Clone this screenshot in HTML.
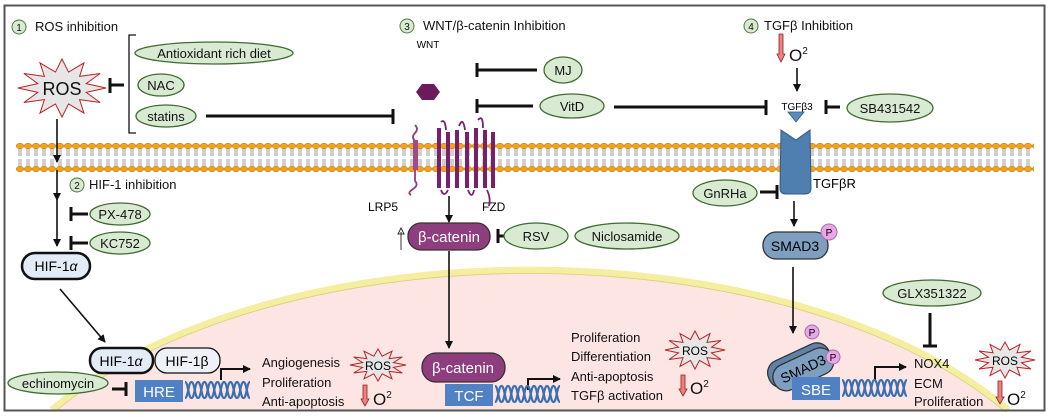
<!DOCTYPE html>
<html><head><meta charset="utf-8"><style>
html,body{margin:0;padding:0;background:#fff;width:1050px;height:417px;overflow:hidden}
svg{display:block;font-family:"Liberation Sans",sans-serif}
</style></head><body>
<svg width="1050" height="417" viewBox="0 0 1050 417" xmlns="http://www.w3.org/2000/svg">
<defs>
<pattern id="mem" x="16" y="0" width="8" height="417" patternUnits="userSpaceOnUse">
<line x1="3" y1="149" x2="3" y2="156" stroke="#888" stroke-width="0.8"/>
<line x1="5" y1="149" x2="5" y2="156" stroke="#888" stroke-width="0.8"/>
<line x1="3" y1="159" x2="3" y2="166" stroke="#888" stroke-width="0.8"/>
<line x1="5" y1="159" x2="5" y2="166" stroke="#888" stroke-width="0.8"/>
<ellipse cx="4" cy="146" rx="3.8" ry="2.8" fill="#f4a21e" stroke="#b8720a" stroke-width="0.5"/>
<ellipse cx="4" cy="169" rx="3.8" ry="2.8" fill="#f4a21e" stroke="#b8720a" stroke-width="0.5"/>
</pattern>
<polygon id="star" points="1,0 .55,.15 .866,.5 .4,.4 .5,.866 .15,.55 0,1 -.15,.55 -.5,.866 -.4,.4 -.866,.5 -.55,.15 -1,0 -.55,-.15 -.866,-.5 -.4,-.4 -.5,-.866 -.15,-.55 0,-1 .15,-.55 .5,-.866 .4,-.4 .866,-.5 .55,-.15" fill="#e6e6e6" stroke="#b22" stroke-width="1" vector-effect="non-scaling-stroke"/>
<g id="dna" fill="none" stroke="#3b6fb0" stroke-width="2.2">
<path d="M0,0 c3.25,0 3.25,16 6.5,16 c3.25,0 3.25,-16 6.5,-16 c3.25,0 3.25,16 6.5,16 c3.25,0 3.25,-16 6.5,-16 c3.25,0 3.25,16 6.5,16 c3.25,0 3.25,-16 6.5,-16 c3.25,0 3.25,16 6.5,16 c3.25,0 3.25,-16 6.5,-16 c3.25,0 3.25,16 6.5,16 c3.25,0 3.25,-16 6.5,-16"/>
<path d="M0,16 c3.25,0 3.25,-16 6.5,-16 c3.25,0 3.25,16 6.5,16 c3.25,0 3.25,-16 6.5,-16 c3.25,0 3.25,16 6.5,16 c3.25,0 3.25,-16 6.5,-16 c3.25,0 3.25,16 6.5,16 c3.25,0 3.25,-16 6.5,-16 c3.25,0 3.25,16 6.5,16 c3.25,0 3.25,-16 6.5,-16 c3.25,0 3.25,16 6.5,16"/>
</g>
<marker id="ar" markerWidth="8" markerHeight="8" refX="7" refY="4" orient="auto" markerUnits="userSpaceOnUse"><path d="M0,0 L8,4 L0,8 z" fill="#111"/></marker>
</defs>

<path d="M52,410 A562,295 0 0 1 1008,410 Z" fill="#fde5e3"/>
<path d="M52,410 A562,295 0 0 1 1008,410" fill="none" stroke="#f4eea0" stroke-width="7"/>
<path d="M57,410 A558,291 0 0 1 1003,410" fill="none" stroke="#d8cf80" stroke-width="0.8"/>
<rect x="16" y="140" width="1018" height="33" fill="url(#mem)"/>

<rect x="4.5" y="5.5" width="1040" height="405" fill="none" stroke="#555" stroke-width="2"/>

<g font-size="13" fill="#111">
<circle cx="19" cy="27" r="7" fill="#d9ead3" stroke="#4a7a3a"/><text x="19" y="31" text-anchor="middle" font-size="10">1</text>
<text x="35" y="31">ROS inhibition</text>
<circle cx="407" cy="26" r="7" fill="#d9ead3" stroke="#4a7a3a"/><text x="407" y="30" text-anchor="middle" font-size="10">3</text>
<text x="423" y="30">WNT/β-catenin Inhibition</text>
<circle cx="751" cy="26" r="7" fill="#d9ead3" stroke="#4a7a3a"/><text x="751" y="30" text-anchor="middle" font-size="10">4</text>
<text x="764" y="30">TGFβ Inhibition</text>
<circle cx="77" cy="185" r="7" fill="#d9ead3" stroke="#4a7a3a"/><text x="77" y="189" text-anchor="middle" font-size="10">2</text>
<text x="89" y="189">HIF-1 inhibition</text>
</g>

<g stroke="#111" stroke-width="3" fill="none">
<path d="M124,85 H110 M110,78 V93"/>
<path d="M206,116 H393 M393,109 V124"/>
<path d="M537,70 H477 M477,63 V77"/>
<path d="M533,106 H477 M477,99 V113"/>
<path d="M614,107 H766 M766,100 V115"/>
<path d="M840,107 H826 M826,100 V114"/>
<path d="M760,192 H777 M777,185 V199"/>
<path d="M504,236 H498 M498,229 V243"/>
<path d="M88,214 H71 M71,207 V221"/>
<path d="M88,243 H71 M71,236 V250"/>
<path d="M112,389 H126 M126,382 V396"/>
<path d="M930,313 V346 M923,346 H937"/>
</g>

<g fill="#d9ead3" stroke="#3f6b30" stroke-width="1.3">
<ellipse cx="214" cy="53" rx="79" ry="11"/>
<ellipse cx="161" cy="85" rx="23" ry="11"/>
<ellipse cx="166" cy="116" rx="30" ry="11"/>
<ellipse cx="563" cy="70" rx="19" ry="13"/>
<ellipse cx="572" cy="106" rx="32" ry="12"/>
<ellipse cx="890" cy="108" rx="43" ry="14"/>
<ellipse cx="725" cy="193" rx="32" ry="13"/>
<ellipse cx="536" cy="236" rx="32" ry="13"/>
<ellipse cx="627" cy="236" rx="52" ry="13"/>
<ellipse cx="932" cy="293" rx="49" ry="13"/>
<ellipse cx="120" cy="214" rx="30" ry="11"/>
<ellipse cx="120" cy="243" rx="30" ry="11"/>
<ellipse cx="58" cy="383" rx="50" ry="11"/>
</g>
<g font-size="13" fill="#111" text-anchor="middle">
<text x="214" y="58">Antioxidant rich diet</text>
<text x="161" y="90">NAC</text>
<text x="166" y="121">statins</text>
<text x="563" y="75">MJ</text>
<text x="572" y="111">VitD</text>
<text x="890" y="113">SB431542</text>
<text x="725" y="198">GnRHa</text>
<text x="536" y="241">RSV</text>
<text x="627" y="241">Niclosamide</text>
<text x="932" y="298">GLX351322</text>
<text x="120" y="219">PX-478</text>
<text x="120" y="248">KC752</text>
<text x="58" y="388">echinomycin</text>
</g>

<path d="M136,35 H129 V133 H136" fill="none" stroke="#111" stroke-width="1.3"/>

<use href="#star" transform="translate(62,88) scale(44,29)"/>
<text x="62" y="95" font-size="18" text-anchor="middle" fill="#111">ROS</text>

<g stroke="#111" stroke-width="1.6" fill="none" marker-end="url(#ar)">
<line x1="57" y1="119" x2="57" y2="162"/>
<line x1="57" y1="170" x2="57" y2="200"/>
<line x1="57" y1="200" x2="57" y2="246"/>
<line x1="60" y1="289" x2="105" y2="342"/>
<line x1="449" y1="196" x2="449" y2="222"/>
<line x1="449" y1="251" x2="449" y2="348"/>
<line x1="797" y1="68" x2="797" y2="91"/>
<line x1="794" y1="201" x2="794" y2="226"/>
<line x1="793" y1="267" x2="793" y2="333"/>
<path d="M221,380 V369 H250" stroke-width="2"/>
<path d="M528,390 V379 H560" stroke-width="2"/>
<path d="M875,380 V367 H906" stroke-width="2"/>
</g>

<rect x="22" y="253" width="68" height="26" rx="13" fill="#e2ecf6" stroke="#111" stroke-width="2.5"/>
<text x="56" y="271" font-size="14" text-anchor="middle">HIF-1<tspan font-style="italic">α</tspan></text>
<rect x="90" y="348" width="63" height="25" rx="12" fill="#e2ecf6" stroke="#111" stroke-width="2.5"/>
<text x="121" y="366" font-size="14" text-anchor="middle">HIF-1<tspan font-style="italic">α</tspan></text>
<rect x="155" y="348" width="65" height="25" rx="12" fill="#eef2f8" stroke="#111" stroke-width="1.3"/>
<text x="187" y="366" font-size="14" text-anchor="middle">HIF-1β</text>
<rect x="135" y="380" width="48" height="22" fill="#4f81c4"/>
<text x="159" y="397" font-size="15" fill="#fff" text-anchor="middle">HRE</text>
<use href="#dna" x="185" y="382"/>
<g font-size="13" fill="#111">
<text x="262" y="367">Angiogenesis</text>
<text x="262" y="387">Proliferation</text>
<text x="262" y="406">Anti-apoptosis</text>
</g>
<use href="#star" transform="translate(378,365) scale(28,16)"/>
<text x="378" y="370" font-size="12" text-anchor="middle">ROS</text>

<text x="428" y="48" font-size="10" text-anchor="middle">WNT</text>
<polygon points="422,84 434,84 440,92 434,100 422,100 416,92" fill="#6b1a5c"/>
<path d="M415,125 q4,4 0,8 q-4,4 0,8 l0,40 q4,4 -2,8 q-6,4 -2,6" fill="none" stroke="#8e3e7e" stroke-width="1.8"/>
<rect x="413" y="140" width="5" height="30" fill="#a04a8a"/>
<g fill="#7a1f6e">
<rect x="437" y="128" width="4" height="60"/><rect x="446" y="132" width="4" height="56"/>
<rect x="455" y="130" width="4" height="58"/><rect x="465" y="132" width="4" height="56"/>
<rect x="474" y="128" width="4" height="60"/><rect x="483" y="130" width="4" height="58"/>
<rect x="491" y="132" width="4" height="56"/>
</g>
<path d="M441,122 q4,-4 5,8 M459,126 q4,-10 6,4 M478,120 q5,-6 5,8 M441,190 q3,8 7,0 M468,190 q4,10 6,0 M487,190 q4,8 2,16" fill="none" stroke="#7a1f6e" stroke-width="1.8"/>
<text x="368" y="211" font-size="12">LRP5</text>
<text x="482" y="211" font-size="12">FZD</text>
<rect x="408" y="223" width="82" height="27" rx="13" fill="#8e3e7e" stroke="#333" stroke-width="1.3"/>
<text x="449" y="242" font-size="15" fill="#fff" text-anchor="middle">β-catenin</text>
<path d="M401,250 V232 M398,234 L401,228 L404,234 Z M398,234 H404" fill="#fff" stroke="#333" stroke-width="1"/>
<rect x="422" y="353" width="83" height="29" rx="14" fill="#8e3e7e" stroke="#333" stroke-width="1.3"/>
<text x="463" y="373" font-size="15" fill="#fff" text-anchor="middle">β-catenin</text>
<rect x="445" y="384" width="48" height="22" fill="#4f81c4"/>
<text x="469" y="401" font-size="15" fill="#fff" text-anchor="middle">TCF</text>
<use href="#dna" x="495" y="386"/>
<g font-size="13" fill="#111">
<text x="571" y="342">Proliferation</text>
<text x="571" y="361">Differentiation</text>
<text x="571" y="381">Anti-apoptosis</text>
<text x="571" y="400">TGFβ activation</text>
</g>
<use href="#star" transform="translate(695,350) scale(30,19)"/>
<text x="695" y="355" font-size="12" text-anchor="middle">ROS</text>

<text x="797" y="110" font-size="10" text-anchor="middle">TGFβ3</text>
<polygon points="788,112 804,112 796,122" fill="#5a8cc0" stroke="#2f5a8a" stroke-width="0.8"/>
<path d="M781,130 L796,140 L810,130 L811,188 Q811,194 805,194 L786,194 Q780,194 780,188 Z" fill="#4f7faf" stroke="#2f5a8a"/>
<text x="813" y="188" font-size="13">TGFβR</text>
<rect x="763" y="232" width="65" height="27" rx="13" fill="#7f9fc0" stroke="#333" stroke-width="1.3"/>
<text x="795" y="251" font-size="14" text-anchor="middle">SMAD3</text>
<circle cx="829" cy="232" r="8" fill="#e9a6ea" stroke="#a070a0"/><text x="829" y="236" font-size="10" text-anchor="middle">P</text>
<g transform="translate(800,367) rotate(-25)">
<rect x="-33" y="-16" width="66" height="28" rx="13" fill="#5f82a8" stroke="#333" stroke-width="1.3"/>
<rect x="-30" y="-10" width="64" height="27" rx="13" fill="#7f9fc0" stroke="#333" stroke-width="1.3"/>
<text x="2" y="8" font-size="14" text-anchor="middle">SMAD3</text>
</g>
<circle cx="812" cy="332" r="7" fill="#e9a6ea" stroke="#a070a0"/><text x="812" y="336" font-size="10" text-anchor="middle">P</text>
<circle cx="833" cy="357" r="7" fill="#e9a6ea" stroke="#a070a0"/><text x="833" y="361" font-size="10" text-anchor="middle">P</text>
<rect x="792" y="377" width="48" height="23" fill="#4f81c4"/>
<text x="816" y="395" font-size="15" fill="#fff" text-anchor="middle">SBE</text>
<use href="#dna" x="842" y="380"/>
<g font-size="13" fill="#111">
<text x="914" y="368">NOX4</text>
<text x="914" y="388">ECM</text>
<text x="914" y="406">Proliferation</text>
</g>
<use href="#star" transform="translate(1005,360) scale(30,18)"/>
<text x="1005" y="365" font-size="12" text-anchor="middle">ROS</text>

<g fill="#f08080" stroke="#8a2020" stroke-width="0.8">
<path d="M779,34 h4 v20 h2 l-4,8 l-4,-8 h2 z"/>
<path d="M363,385 h4 v14 h2 l-4,7 l-4,-7 h2 z"/>
<path d="M681,375 h4 v14 h2 l-4,7 l-4,-7 h2 z"/>
<path d="M998,381 h4 v16 h2 l-4,7 l-4,-7 h2 z"/>
</g>
<g font-size="17" fill="#111">
<text x="789" y="61">O<tspan font-size="10" dy="-7">2</tspan></text>
<text x="373" y="405">O<tspan font-size="10" dy="-7">2</tspan></text>
<text x="690" y="394">O<tspan font-size="10" dy="-7">2</tspan></text>
<text x="1007" y="405">O<tspan font-size="10" dy="-7">2</tspan></text>
</g>
</svg>
</body></html>
